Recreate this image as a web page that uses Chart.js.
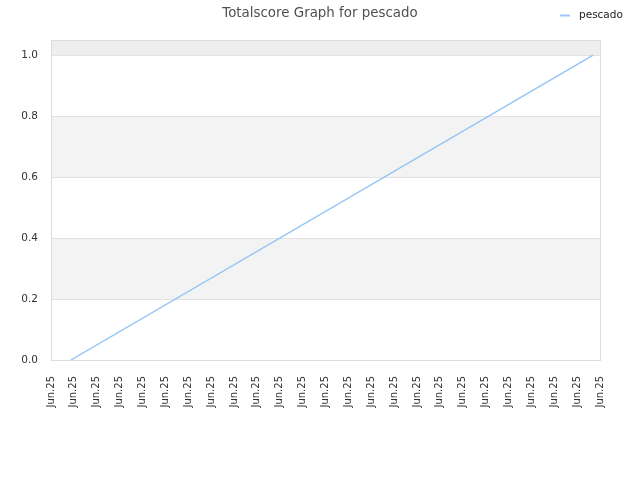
<!DOCTYPE html>
<html>
<head>
<meta charset="utf-8">
<script src="https://cdn.jsdelivr.net/npm/chart.js@4.4.1/dist/chart.umd.min.js"></script>
<style>
  html, body { margin: 0; padding: 0; background: #fff; }
  #wrap { width: 640px; height: 480px; }
</style>
</head>
<body>
<div id="wrap"><canvas id="scoreChart" width="640" height="480"></canvas></div>
<script>
// tick labels on the date axis
var xLabels = ["Jun.25", "Jun.25", "Jun.25", "Jun.25", "Jun.25", "Jun.25", "Jun.25",
  "Jun.25", "Jun.25", "Jun.25", "Jun.25", "Jun.25", "Jun.25", "Jun.25", "Jun.25",
  "Jun.25", "Jun.25", "Jun.25", "Jun.25", "Jun.25", "Jun.25", "Jun.25", "Jun.25",
  "Jun.25", "Jun.25"];
// series: position along the date axis and score
var xValues = [0.87, 23.7];
var yValues = [0, 1];
var seriesName = "pescado";

var points = xValues.map(function (x, i) { return { x: x, y: yValues[i] }; });

// alternating bands + plot frame + legend drawn on the canvas
var bandPlugin = {
  id: "bands",
  beforeDatasetsDraw: function (chart) {
    var ctx = chart.ctx, area = chart.chartArea, y = chart.scales.y;
    ctx.save();
    var bands = [[0.2, 0.4, "#f3f3f3"], [0.6, 0.8, "#f3f3f3"], [1.0, y.max, "#eeeeee"]];
    bands.forEach(function (b) {
      var top = y.getPixelForValue(b[1]), bot = y.getPixelForValue(b[0]);
      ctx.fillStyle = b[2];
      ctx.fillRect(area.left, top, area.right - area.left, bot - top);
    });
    ctx.strokeStyle = "#e2e2e2";
    ctx.lineWidth = 1;
    y.ticks.forEach(function (t) {
      var py = Math.round(y.getPixelForValue(t.value)) + 0.5;
      ctx.beginPath(); ctx.moveTo(area.left, py); ctx.lineTo(area.right, py); ctx.stroke();
    });
    ctx.strokeStyle = "#dcdcdc";
    ctx.strokeRect(Math.round(area.left) + 0.5, Math.round(area.top) + 0.5,
      Math.round(area.right - area.left), Math.round(area.bottom - area.top));
    ctx.restore();
  },
  afterDraw: function (chart) {
    var ctx = chart.ctx;
    ctx.save();
    ctx.strokeStyle = "#99c9f7";
    ctx.lineWidth = 2;
    ctx.beginPath(); ctx.moveTo(560, 15.5); ctx.lineTo(570, 15.5); ctx.stroke();
    ctx.fillStyle = "#222";
    ctx.font = "10.5px 'DejaVu Sans'";
    ctx.textBaseline = "middle";
    ctx.fillText(seriesName, 579, 15);
    ctx.restore();
  }
};

new Chart(document.getElementById("scoreChart"), {
  type: "line",
  data: {
    datasets: [{
      label: seriesName,
      data: points,
      borderColor: "#92c5f6",
      borderWidth: 1.4,
      pointRadius: 0,
      fill: false,
      tension: 0
    }]
  },
  options: {
    responsive: false,
    animation: false,
    devicePixelRatio: 1,
    layout: { padding: 0 },
    plugins: {
      legend: { display: false },
      tooltip: { enabled: false },
      title: {
        display: true,
        text: "Totalscore Graph for pescado",
        color: "#505050",
        font: { family: "DejaVu Sans", size: 13.4, weight: "normal" },
        padding: { top: 5, bottom: 19 }
      }
    },
    scales: {
      x: {
        type: "linear",
        min: 0,
        max: 24,
        grid: { display: false },
        border: { display: false },
        ticks: {
          stepSize: 1,
          autoSkip: false,
          maxRotation: 90,
          minRotation: 90,
          padding: 8,
          color: "#333",
          font: { family: "DejaVu Sans", size: 10 },
          callback: function (v) { return xLabels[v]; }
        },
        afterFit: function (s) { s.height = 120; }
      },
      y: {
        min: 0,
        max: 1.049,
        grid: { display: false },
        border: { display: false },
        ticks: {
          stepSize: 0.2,
          includeBounds: false,
          padding: 5,
          color: "#333",
          font: { family: "DejaVu Sans", size: 10.5 },
          callback: function (v) { return v.toFixed(1); }
        },
        afterFit: function (s) { s.width = 51; }
      },
      // empty right-hand axis, only keeps the right margin
      yRight: {
        position: "right",
        grid: { display: false },
        border: { display: false },
        ticks: { display: false },
        afterFit: function (s) { s.width = 40; }
      }
    }
  },
  plugins: [bandPlugin]
});
</script>
</body>
</html>
